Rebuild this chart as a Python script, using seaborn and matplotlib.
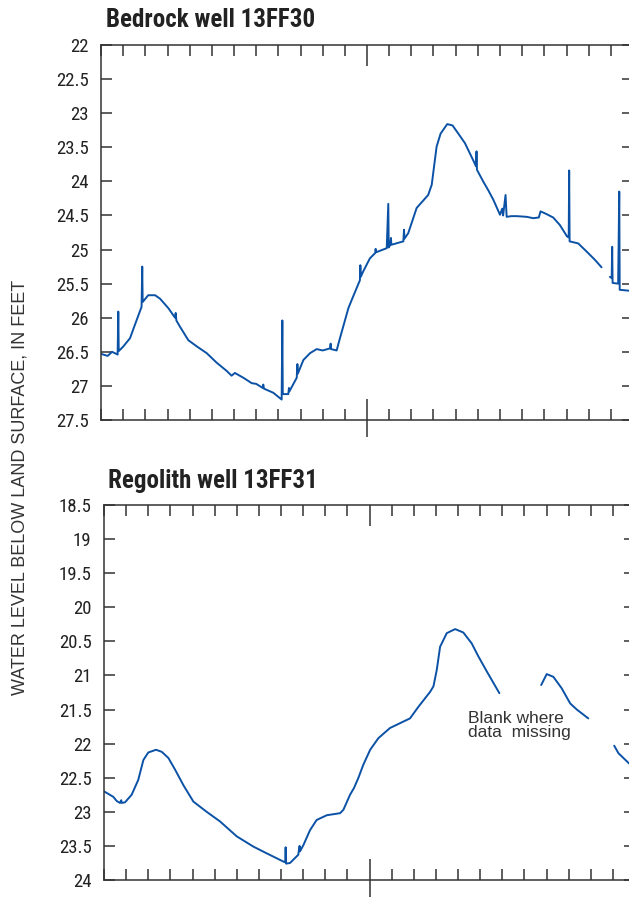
import numpy as np
import pandas as pd
import matplotlib
matplotlib.use("Agg")
import matplotlib.pyplot as plt
import seaborn as sns
from matplotlib import font_manager

# ---------------- data ----------------
bedrock_title = "Bedrock well 13FF30"
regolith_title = "Regolith well 13FF31"
y_label = "WATER LEVEL BELOW LAND SURFACE, IN FEET"
note_text = "Blank where\ndata  missing"

bed_month = [
    0, 0.3, 0.5, 0.75, 0.78, 0.80, 1.01, 1.31, 1.50, 1.83, 1.86, 1.88, 2.13, 2.44, 2.66,
    3.04, 3.34, 3.37, 3.40, 3.56, 3.94, 4.32, 4.77, 5.22, 5.67, 5.89, 6.04, 6.42, 6.80,
    7.0, 7.30, 7.32, 7.35, 7.77, 8.15, 8.18, 8.20, 8.45, 8.48, 8.50, 8.83, 8.86, 8.88,
    9.13, 9.43, 9.73, 10.0, 10.33, 10.36, 10.38, 10.63, 10.78, 11.16, 11.31, 11.68,
    11.70, 11.72, 11.83, 12.13, 12.37, 12.39, 12.41, 12.89, 12.96, 12.98, 13.05, 13.08,
    13.10, 13.64, 13.67, 13.69, 13.86, 14.24, 14.76, 14.92, 15.14, 15.32, 15.62, 15.86,
    16.12, 16.42, 16.79, 16.92, 16.94, 16.96, 17.24, 17.47, 17.70, 18.0, 18.10, 18.14,
    18.25, 18.30, 18.52, 18.75, 19.2, 19.5, 19.75, 19.83, 20.1, 20.40, 20.70, 21.03,
    21.10, 21.12, 21.14, 21.53, 21.91, 22.28, 22.58,
]
bed_level = [
    26.53, 26.56, 26.50, 26.54, 25.91, 26.49, 26.42, 26.30, 26.13, 25.84, 25.25, 25.77,
    25.67, 25.67, 25.72, 25.86, 26.00, 25.93, 26.04, 26.13, 26.33, 26.42, 26.52, 26.66,
    26.78, 26.85, 26.81, 26.88, 26.96, 26.97, 27.03, 26.98, 27.04, 27.10, 27.20, 26.04,
    27.12, 27.12, 27.03, 27.08, 26.88, 26.68, 26.82, 26.62, 26.52, 26.46, 26.48, 26.45,
    26.38, 26.46, 26.48, 26.30, 25.86, 25.74, 25.45, 25.23, 25.40, 25.32, 25.13, 25.05,
    24.99, 25.04, 24.98, 24.33, 24.97, 24.93, 24.83, 24.93, 24.88, 24.71, 24.84, 24.76,
    24.39, 24.20, 24.05, 23.49, 23.30, 23.16, 23.18, 23.30, 23.44, 23.69, 23.78, 23.56,
    23.83, 24.00, 24.13, 24.27, 24.49, 24.40, 24.50, 24.20, 24.52, 24.51, 24.51, 24.52,
    24.54, 24.53, 24.44, 24.48, 24.53, 24.64, 24.81, 24.82, 23.84, 24.88, 24.91, 25.03,
    25.15, 25.26,
]
bed_month2 = [22.96, 23.04, 23.06, 23.08, 23.33, 23.38, 23.40, 24.0]
bed_level2 = [25.40, 25.42, 24.96, 25.49, 25.50, 24.15, 25.59, 25.61]

reg_month1 = [
    0, 0.42, 0.57, 0.72, 0.78, 0.80, 0.95, 1.25, 1.55, 1.78, 2.0, 2.35, 2.61, 2.91,
    3.21, 3.59, 4.04, 4.64, 5.24, 6.0, 6.75, 7.36, 8.11, 8.19, 8.21, 8.23, 8.41, 8.78,
    8.84, 8.86, 9.01, 9.31, 9.61, 10.07, 10.67, 10.82, 11.12, 11.30, 11.50, 11.72,
    12.03, 12.40, 12.93, 13.38, 13.83, 14.21, 14.74, 14.89, 15.04, 15.19, 15.49, 15.87,
    16.24, 16.62, 16.92, 17.30, 17.87,
]
reg_level1 = [
    22.70, 22.78, 22.84, 22.87, 22.83, 22.87, 22.86, 22.75, 22.53, 22.24, 22.13, 22.09,
    22.12, 22.21, 22.38, 22.61, 22.85, 23.00, 23.14, 23.36, 23.51, 23.61, 23.73, 23.74,
    23.52, 23.76, 23.75, 23.63, 23.50, 23.58, 23.49, 23.27, 23.12, 23.05, 23.02, 22.97,
    22.75, 22.65, 22.50, 22.31, 22.09, 21.92, 21.77, 21.70, 21.63, 21.46, 21.24, 21.16,
    20.92, 20.58, 20.38, 20.32, 20.37, 20.53, 20.72, 20.94, 21.26,
]
reg_month2 = [19.76, 20.01, 20.31, 20.69, 21.07, 21.37, 21.89]
reg_level2 = [21.14, 20.98, 21.02, 21.19, 21.41, 21.50, 21.63]
reg_month3 = [23.06, 23.25, 23.73, 24.0]
reg_level3 = [22.03, 22.14, 22.29, 22.32]

month_ticks = list(range(0, 25))
top_yticks = [22, 22.5, 23, 23.5, 24, 24.5, 25, 25.5, 26, 26.5, 27, 27.5]
bot_yticks = [18.5, 19, 19.5, 20, 20.5, 21, 21.5, 22, 22.5, 23, 23.5, 24]

bed_df = pd.DataFrame({
    "month": bed_month + bed_month2,
    "level": bed_level + bed_level2,
    "seg": [1] * len(bed_month) + [2] * len(bed_month2),
})
reg_df = pd.DataFrame({
    "month": reg_month1 + reg_month2 + reg_month3,
    "level": reg_level1 + reg_level2 + reg_level3,
    "seg": [1] * len(reg_month1) + [2] * len(reg_month2) + [3] * len(reg_month3),
})

# ---------------- fonts ----------------
available = {f.name for f in font_manager.fontManager.ttflist}
narrow = None
for cand in ["Liberation Sans Narrow", "Roboto Condensed", "DejaVu Sans Condensed",
             "Open Sans Condensed", "Arial Narrow"]:
    if cand in available:
        narrow = cand
        break
if narrow is None:
    COND = ["Liberation Sans", "DejaVu Sans"]
    TICK_FS, TITLE_FS = 12, 15
else:
    COND = [narrow, "DejaVu Sans"]
    TICK_FS, TITLE_FS = 13.5, 18
REG = ["Liberation Sans", "DejaVu Sans"]

# ---------------- style ----------------
sns.set_theme(style="ticks")
plt.rcParams["font.family"] = COND
LINE = "#0B52A6"
AX = "#333333"
TXT = "#222222"

W, H = 629, 902
fig = plt.figure(figsize=(W / 100, H / 100), dpi=100)


def px_axes(left, top, right, bottom):
    return fig.add_axes([left / W, 1 - bottom / H, (right - left) / W, (bottom - top) / H])


ax1 = px_axes(101, 45, 633, 420)
ax2 = px_axes(104, 505, 635, 880)


def style(ax, yticks):
    ax.set_xlim(0, 24)
    ax.set_ylim(yticks[-1], yticks[0])
    ax.set_yticks(yticks)
    ax.set_yticklabels([f"{t:g}" for t in yticks])
    ax.set_xticks([m for m in month_ticks if m != 12])
    ax.set_xticks([12], minor=True)
    ax.tick_params(axis="x", which="major", direction="in", length=8, width=1.1,
                   color=AX, top=True, bottom=True, labelbottom=False, labeltop=False)
    ax.tick_params(axis="x", which="minor", direction="in", length=15, width=1.1,
                   color=AX, top=True, bottom=True)
    ax.tick_params(axis="y", which="major", direction="in", length=8, width=1.1,
                   color=AX, left=True, right=True, labelsize=TICK_FS, labelcolor=TXT, pad=9)
    for s in ax.spines.values():
        s.set_color(AX)
        s.set_linewidth(1.1)
        s.set_visible(True)
    ax.set_xlabel("")
    ax.set_ylabel("")
    sec = ax.secondary_xaxis("bottom")
    sec.set_xticks([12])
    sec.tick_params(direction="out", length=12, width=1.1, color=AX, labelbottom=False)
    sec.spines["bottom"].set_visible(False)


sns.lineplot(data=bed_df, x="month", y="level", units="seg", estimator=None,
             sort=False, color=LINE, lw=1.4, ax=ax1, legend=False)
sns.lineplot(data=reg_df, x="month", y="level", units="seg", estimator=None,
             sort=False, color=LINE, lw=1.4, ax=ax2, legend=False)
style(ax1, top_yticks)
style(ax2, bot_yticks)

fig.text(106 / W, 1 - 27 / H, bedrock_title, fontsize=TITLE_FS, fontweight="bold",
         color=TXT, ha="left", va="baseline", family=COND)
fig.text(108 / W, 1 - 488 / H, regolith_title, fontsize=TITLE_FS, fontweight="bold",
         color=TXT, ha="left", va="baseline", family=COND)
fig.text(20 / W, 1 - 487 / H, y_label, rotation=90, fontsize=13, color=AX,
         ha="center", va="center", family=REG)
ax2.text(16.46, 21.73, note_text, fontsize=12.5, color=AX, ha="left", va="center",
         linespacing=0.95, family=REG)

fig.savefig("out.png", dpi=100)
